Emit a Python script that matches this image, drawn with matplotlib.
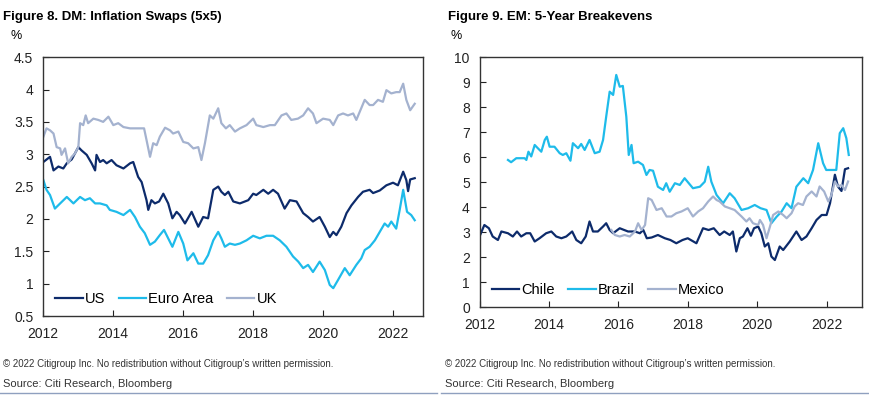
import matplotlib
matplotlib.use("Agg")
import matplotlib.pyplot as plt
from matplotlib.lines import Line2D

plt.rcParams['font.family'] = ['Liberation Sans', 'DejaVu Sans']

# Figure 8: DM inflation swaps (5x5), decimal years
us_x = [2012.01, 2012.20, 2012.30, 2012.44, 2012.58, 2012.68, 2012.82, 2013.01, 2013.10, 2013.25,
        2013.39, 2013.49, 2013.53, 2013.63, 2013.72, 2013.82, 2013.96, 2014.10, 2014.30, 2014.49,
        2014.58, 2014.72, 2014.82, 2014.96, 2015.01, 2015.10, 2015.20, 2015.32, 2015.44, 2015.58,
        2015.70, 2015.82, 2015.91, 2016.06, 2016.25, 2016.44, 2016.58, 2016.72, 2016.87, 2017.01,
        2017.10, 2017.20, 2017.30, 2017.44, 2017.63, 2017.87, 2018.01, 2018.10, 2018.30, 2018.44,
        2018.58, 2018.72, 2018.91, 2019.06, 2019.25, 2019.44, 2019.58, 2019.72, 2019.91, 2020.06,
        2020.20, 2020.30, 2020.39, 2020.53, 2020.68, 2020.82, 2021.01, 2021.15, 2021.34, 2021.44,
        2021.63, 2021.82, 2022.01, 2022.15, 2022.30, 2022.39, 2022.44, 2022.50, 2022.63]
us_y = [2.88, 2.96, 2.75, 2.81, 2.78, 2.86, 2.92, 3.11, 3.06, 2.99,
        2.86, 2.75, 2.99, 2.88, 2.91, 2.86, 2.91, 2.83, 2.78, 2.86,
        2.88, 2.65, 2.57, 2.29, 2.14, 2.29, 2.24, 2.27, 2.39, 2.24,
        2.01, 2.11, 2.06, 1.93, 2.11, 1.88, 2.03, 2.01, 2.45, 2.50,
        2.42, 2.37, 2.42, 2.27, 2.24, 2.29, 2.39, 2.37, 2.45, 2.39,
        2.45, 2.39, 2.16, 2.29, 2.27, 2.09, 2.03, 1.96, 2.03, 1.88,
        1.72, 1.80, 1.75, 1.88, 2.09, 2.21, 2.34, 2.42, 2.45, 2.40,
        2.44, 2.52, 2.56, 2.52, 2.73, 2.60, 2.43, 2.61, 2.63]

euro_x = [2012.01, 2012.10, 2012.20, 2012.34, 2012.49, 2012.68, 2012.87, 2013.06, 2013.20, 2013.34,
          2013.49, 2013.63, 2013.82, 2013.91, 2014.10, 2014.30, 2014.49, 2014.63, 2014.77, 2014.91,
          2015.06, 2015.20, 2015.34, 2015.46, 2015.58, 2015.70, 2015.87, 2016.01, 2016.13, 2016.30,
          2016.44, 2016.58, 2016.72, 2016.87, 2017.01, 2017.10, 2017.20, 2017.34, 2017.49, 2017.63,
          2017.82, 2018.01, 2018.20, 2018.39, 2018.58, 2018.77, 2018.96, 2019.15, 2019.30, 2019.44,
          2019.58, 2019.72, 2019.91, 2020.06, 2020.20, 2020.30, 2020.44, 2020.63, 2020.77, 2020.96,
          2021.10, 2021.20, 2021.34, 2021.49, 2021.63, 2021.77, 2021.87, 2021.96, 2022.10, 2022.20,
          2022.30, 2022.41, 2022.53, 2022.63]
euro_y = [2.60, 2.45, 2.37, 2.16, 2.24, 2.34, 2.24, 2.34, 2.29, 2.32,
          2.24, 2.24, 2.21, 2.14, 2.11, 2.06, 2.14, 2.03, 1.88, 1.78,
          1.60, 1.65, 1.75, 1.83, 1.70, 1.57, 1.80, 1.62, 1.36, 1.47,
          1.31, 1.31, 1.44, 1.67, 1.80, 1.70, 1.57, 1.62, 1.60, 1.62,
          1.67, 1.74, 1.70, 1.74, 1.74, 1.67, 1.57, 1.42, 1.34, 1.24,
          1.29, 1.18, 1.34, 1.21, 0.98, 0.93, 1.06, 1.24, 1.13, 1.29,
          1.39, 1.52, 1.57, 1.67, 1.80, 1.93, 1.88, 1.96, 1.85, 2.14,
          2.45, 2.11, 2.06, 1.98]

uk_x = [2012.01, 2012.10, 2012.20, 2012.30, 2012.39, 2012.49, 2012.53, 2012.63, 2012.68, 2012.72,
        2012.82, 2012.91, 2013.01, 2013.06, 2013.15, 2013.22, 2013.29, 2013.44, 2013.58, 2013.72,
        2013.87, 2014.01, 2014.15, 2014.30, 2014.49, 2014.68, 2014.82, 2014.89, 2014.96, 2015.06,
        2015.15, 2015.25, 2015.34, 2015.49, 2015.63, 2015.72, 2015.87, 2016.01, 2016.15, 2016.30,
        2016.44, 2016.53, 2016.63, 2016.77, 2016.87, 2017.01, 2017.10, 2017.23, 2017.34, 2017.49,
        2017.63, 2017.82, 2018.01, 2018.10, 2018.30, 2018.49, 2018.63, 2018.82, 2018.96, 2019.10,
        2019.29, 2019.44, 2019.58, 2019.72, 2019.82, 2020.01, 2020.20, 2020.30, 2020.44, 2020.58,
        2020.72, 2020.87, 2020.96, 2021.20, 2021.34, 2021.44, 2021.58, 2021.72, 2021.82, 2021.96,
        2022.10, 2022.20, 2022.30, 2022.39, 2022.50, 2022.63]
uk_y = [3.27, 3.40, 3.37, 3.32, 3.11, 3.09, 2.99, 3.09, 2.96, 2.86,
        2.96, 3.01, 3.11, 3.48, 3.45, 3.60, 3.48, 3.55, 3.53, 3.50,
        3.58, 3.45, 3.48, 3.42, 3.40, 3.40, 3.40, 3.40, 3.22, 2.96,
        3.17, 3.14, 3.27, 3.41, 3.37, 3.32, 3.35, 3.19, 3.17, 3.09,
        3.11, 2.91, 3.17, 3.60, 3.55, 3.71, 3.48, 3.40, 3.45, 3.35,
        3.40, 3.45, 3.55, 3.45, 3.42, 3.45, 3.45, 3.60, 3.63, 3.53,
        3.55, 3.60, 3.71, 3.63, 3.48, 3.55, 3.53, 3.45, 3.60, 3.63,
        3.60, 3.63, 3.53, 3.84, 3.76, 3.76, 3.84, 3.81, 3.99, 3.94,
        3.96, 3.96, 4.09, 3.84, 3.68, 3.78]

# Figure 9: EM 5-year breakevens
chile_x = [2012.00, 2012.14, 2012.27, 2012.38, 2012.53, 2012.63, 2012.82, 2012.96, 2013.08, 2013.20,
           2013.35, 2013.46, 2013.59, 2013.73, 2013.92, 2014.07, 2014.21, 2014.36, 2014.50, 2014.67,
           2014.79, 2014.93, 2015.06, 2015.17, 2015.27, 2015.41, 2015.56, 2015.65, 2015.75, 2015.85,
           2016.04, 2016.28, 2016.48, 2016.62, 2016.72, 2016.82, 2016.96, 2017.14, 2017.34, 2017.50,
           2017.67, 2017.85, 2018.00, 2018.25, 2018.44, 2018.60, 2018.75, 2018.92, 2019.05, 2019.21,
           2019.30, 2019.40, 2019.50, 2019.59, 2019.72, 2019.82, 2019.91, 2020.03, 2020.12, 2020.22,
           2020.32, 2020.41, 2020.51, 2020.65, 2020.75, 2020.94, 2021.13, 2021.28, 2021.42, 2021.57,
           2021.71, 2021.86, 2022.00, 2022.10, 2022.24, 2022.33, 2022.43, 2022.53, 2022.62]
chile_y = [2.83, 3.29, 3.16, 2.83, 2.69, 3.03, 2.96, 2.83, 3.03, 2.83,
           2.96, 2.96, 2.63, 2.76, 2.96, 3.03, 2.83, 2.76, 2.83, 3.03,
           2.69, 2.56, 2.83, 3.43, 3.03, 3.03, 3.23, 3.36, 3.09, 2.96,
           3.16, 3.03, 3.03, 2.96, 3.09, 2.76, 2.79, 2.89, 2.76, 2.69,
           2.56, 2.69, 2.76, 2.56, 3.16, 3.09, 3.16, 2.89, 3.03, 2.89,
           3.03, 2.23, 2.76, 2.83, 3.16, 2.86, 3.16, 3.23, 2.96, 2.43,
           2.56, 2.03, 1.89, 2.43, 2.29, 2.63, 3.03, 2.69, 2.83, 3.16,
           3.49, 3.69, 3.69, 4.16, 5.30, 4.82, 4.65, 5.52, 5.56]

brazil_x = [2012.82, 2012.91, 2013.06, 2013.30, 2013.35, 2013.41, 2013.49, 2013.59, 2013.68, 2013.78,
            2013.88, 2013.94, 2014.02, 2014.16, 2014.31, 2014.40, 2014.50, 2014.62, 2014.69, 2014.84,
            2014.93, 2015.03, 2015.17, 2015.32, 2015.46, 2015.56, 2015.65, 2015.75, 2015.85, 2015.94,
            2016.04, 2016.13, 2016.23, 2016.30, 2016.38, 2016.44, 2016.57, 2016.71, 2016.81, 2016.90,
            2017.00, 2017.14, 2017.29, 2017.38, 2017.48, 2017.63, 2017.77, 2017.91, 2018.15, 2018.35,
            2018.49, 2018.59, 2018.68, 2018.83, 2019.02, 2019.21, 2019.35, 2019.55, 2019.74, 2019.93,
            2020.10, 2020.27, 2020.41, 2020.56, 2020.70, 2020.85, 2020.99, 2021.13, 2021.33, 2021.47,
            2021.61, 2021.76, 2021.90, 2021.99, 2022.28, 2022.38, 2022.48, 2022.57, 2022.64]
brazil_y = [5.89, 5.80, 5.96, 5.96, 5.89, 6.22, 6.03, 6.49, 6.36, 6.22,
            6.69, 6.82, 6.42, 6.42, 6.16, 6.09, 6.16, 5.86, 6.56, 6.36,
            6.53, 6.29, 6.69, 6.16, 6.22, 6.69, 7.62, 8.62, 8.49, 9.29,
            8.82, 8.85, 7.62, 6.09, 6.49, 5.76, 5.82, 5.69, 5.29, 5.49,
            5.46, 4.82, 4.69, 4.96, 4.62, 4.96, 4.89, 5.16, 4.76, 4.82,
            5.02, 5.62, 5.02, 4.49, 4.16, 4.56, 4.36, 3.89, 3.96, 4.09,
            3.96, 3.89, 3.36, 3.62, 3.82, 4.16, 3.96, 4.82, 5.16, 4.96,
            5.49, 6.56, 5.76, 5.49, 5.49, 6.96, 7.16, 6.76, 6.09]

mexico_x = [2015.80, 2015.90, 2016.04, 2016.18, 2016.33, 2016.48, 2016.57, 2016.67, 2016.77, 2016.86,
            2016.96, 2017.10, 2017.25, 2017.39, 2017.53, 2017.67, 2017.82, 2018.00, 2018.15, 2018.30,
            2018.44, 2018.59, 2018.73, 2018.83, 2018.92, 2019.07, 2019.21, 2019.35, 2019.55, 2019.69,
            2019.78, 2019.88, 2020.03, 2020.08, 2020.17, 2020.27, 2020.37, 2020.46, 2020.61, 2020.75,
            2020.85, 2020.99, 2021.08, 2021.18, 2021.32, 2021.42, 2021.57, 2021.71, 2021.80, 2021.93,
            2022.05, 2022.14, 2022.24, 2022.33, 2022.43, 2022.53, 2022.62]
mexico_y = [3.09, 2.89, 2.83, 2.89, 2.83, 3.03, 3.36, 3.09, 3.29, 4.36,
            4.29, 3.89, 3.96, 3.63, 3.63, 3.76, 3.83, 3.96, 3.63, 3.83,
            3.96, 4.23, 4.43, 4.29, 4.23, 4.03, 3.96, 3.89, 3.63, 3.43,
            3.56, 3.36, 3.29, 3.49, 3.29, 2.76, 3.23, 3.69, 3.83, 3.69,
            3.56, 3.76, 4.03, 4.16, 4.09, 4.43, 4.63, 4.43, 4.83, 4.63,
            4.23, 4.49, 5.03, 4.83, 4.89, 4.69, 5.03]

navy = '#0d2b6b'
cyan = '#1ebbea'
grey = '#a4b2cf'
year_ticks = [2012, 2014, 2016, 2018, 2020, 2022]

fig = plt.figure(figsize=(8.69, 3.97), dpi=100)
ax1 = fig.add_axes([0.0495, 0.204, 0.437, 0.652])
ax2 = fig.add_axes([0.5518, 0.226, 0.4405, 0.630])

ax1.plot(us_x, us_y, color=navy, lw=1.6, label='US')
ax1.plot(euro_x, euro_y, color=cyan, lw=1.6, label='Euro Area')
ax1.plot(uk_x, uk_y, color=grey, lw=1.6, label='UK')
ax1.set_xlim(2012, 2022.86)
ax1.set_ylim(0.5, 4.5)
ax1.set_yticks([0.5, 1, 1.5, 2, 2.5, 3, 3.5, 4, 4.5])
ax1.set_yticklabels(['0.5', '1', '1.5', '2', '2.5', '3', '3.5', '4', '4.5'])

ax2.plot(chile_x, chile_y, color=navy, lw=1.6, label='Chile')
ax2.plot(brazil_x, brazil_y, color=cyan, lw=1.6, label='Brazil')
ax2.plot(mexico_x, mexico_y, color=grey, lw=1.6, label='Mexico')
ax2.set_xlim(2012, 2023.03)
ax2.set_ylim(0, 10)
ax2.set_yticks(range(0, 11))

for ax in (ax1, ax2):
    ax.set_xticks(year_ticks)
    ax.tick_params(direction='in', length=4, width=0.8, labelsize=10, colors='#222222')
    ax.tick_params(axis='x', pad=8)
    ax.tick_params(axis='y', pad=7)
    for s in ax.spines.values():
        s.set_color('#333333')
        s.set_linewidth(1.0)
    ax.legend(loc='lower left', ncol=3, frameon=False, fontsize=10.5, handlelength=1.9,
              handletextpad=0.15, columnspacing=0.9, borderaxespad=0.3, bbox_to_anchor=(0.005, 0.0))

fig.text(0.004, 0.958, 'Figure 8. DM: Inflation Swaps (5x5)', fontsize=9.5, fontweight='bold', va='center')
fig.text(0.515, 0.958, 'Figure 9. EM: 5-Year Breakevens', fontsize=9.5, fontweight='bold', va='center')
fig.text(0.012, 0.91, '%', fontsize=9, va='center')
fig.text(0.518, 0.91, '%', fontsize=9, va='center')

note = '\u00a9 2022 Citigroup Inc. No redistribution without Citigroup\u2019s written permission.'
fig.text(0.004, 0.083, note, fontsize=7, color='#333333', va='center')
fig.text(0.512, 0.083, note, fontsize=7, color='#333333', va='center')
fig.text(0.004, 0.032, 'Source: Citi Research, Bloomberg', fontsize=8, color='#333333', va='center')
fig.text(0.512, 0.032, 'Source: Citi Research, Bloomberg', fontsize=8, color='#333333', va='center')
fig.add_artist(Line2D([0.0, 0.503], [0.01, 0.01], color='#8fa0bf', lw=1))
fig.add_artist(Line2D([0.508, 1.0], [0.01, 0.01], color='#8fa0bf', lw=1))

fig.savefig('out.png', dpi=100)
